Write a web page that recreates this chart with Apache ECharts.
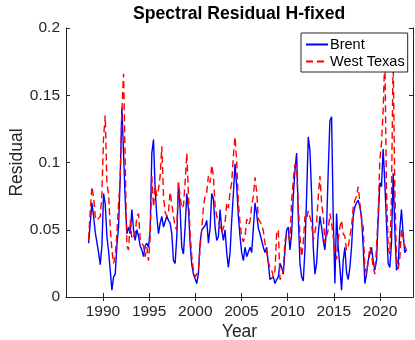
<!DOCTYPE html>
<html>
<head>
<meta charset="utf-8">
<title>Spectral Residual H-fixed</title>
<script src="https://cdn.jsdelivr.net/npm/echarts@6/dist/echarts.min.js"></script>
<style>
  html, body { margin: 0; padding: 0; background: #fff; }
  #chart { width: 415px; height: 340px; }
</style>
</head>
<body>
<div id="chart"></div>
<script>
// sampling of the residual series (years)
var startYear = 1988.447;
var stepYears = 0.18018;

var yearTicks = [1990, 1995, 2000, 2005, 2010, 2015, 2020];

// Brent
var brent = [
    0.040, 0.055, 0.070, 0.060, 0.048, 0.047, 0.033, 0.024, 0.038, 0.077,
    0.069, 0.045, 0.034, 0.020, 0.005, 0.015, 0.017, 0.038, 0.052, 0.089,
    0.141, 0.107, 0.072, 0.047, 0.052, 0.047, 0.065, 0.050, 0.042, 0.050,
    0.045, 0.038, 0.035, 0.030, 0.038, 0.040, 0.037, 0.050, 0.107, 0.117,
    0.080, 0.060, 0.047, 0.055, 0.060, 0.052, 0.052, 0.060, 0.057, 0.055,
    0.047, 0.027, 0.025, 0.045, 0.085, 0.065, 0.037, 0.032, 0.052, 0.077,
    0.065, 0.040, 0.024, 0.017, 0.016, 0.010, 0.018, 0.040, 0.050, 0.051,
    0.053, 0.057, 0.040, 0.051, 0.077, 0.073, 0.052, 0.042, 0.045, 0.065,
    0.050, 0.042, 0.050, 0.033, 0.022, 0.033, 0.057, 0.077, 0.099, 0.082,
    0.060, 0.045, 0.033, 0.027, 0.037, 0.030, 0.030, 0.037, 0.033, 0.051,
    0.070, 0.062, 0.051, 0.047, 0.042, 0.037, 0.033, 0.037, 0.025, 0.013,
    0.013, 0.015, 0.010, 0.013, 0.015, 0.025, 0.022, 0.017, 0.035, 0.050,
    0.052, 0.035, 0.047, 0.075, 0.094, 0.107, 0.060, 0.025, 0.015, 0.012,
    0.035, 0.075, 0.119, 0.109, 0.077, 0.037, 0.017, 0.025, 0.047, 0.060,
    0.052, 0.042, 0.035, 0.052, 0.094, 0.131, 0.134, 0.060, 0.010, 0.062,
    0.037, 0.022, 0.005, 0.027, 0.037, 0.018, 0.013, 0.022, 0.037, 0.060,
    0.067, 0.070, 0.072, 0.067, 0.060, 0.037, 0.010, 0.017, 0.027, 0.032,
    0.037, 0.027, 0.020, 0.027, 0.057, 0.085, 0.082, 0.110, 0.085, 0.055,
    0.025, 0.022, 0.040, 0.092, 0.050, 0.020, 0.022, 0.050, 0.065, 0.047,
    0.033, 0.035
];

// West Texas
var westTexas = [
    0.043, 0.065, 0.082, 0.074, 0.060, 0.057, 0.058, 0.060, 0.077, 0.119,
    0.135, 0.084, 0.077, 0.052, 0.035, 0.025, 0.030, 0.047, 0.069, 0.089,
    0.138, 0.166, 0.100, 0.038, 0.035, 0.057, 0.043, 0.045, 0.047, 0.060,
    0.062, 0.043, 0.040, 0.038, 0.030, 0.037, 0.027, 0.045, 0.090, 0.067,
    0.082, 0.075, 0.080, 0.090, 0.112, 0.075, 0.063, 0.060, 0.063, 0.078,
    0.077, 0.060, 0.052, 0.050, 0.085, 0.075, 0.066, 0.068, 0.085, 0.107,
    0.077, 0.047, 0.030, 0.020, 0.015, 0.017, 0.020, 0.037, 0.050, 0.067,
    0.075, 0.078, 0.090, 0.085, 0.098, 0.090, 0.068, 0.060, 0.056, 0.052,
    0.048, 0.049, 0.055, 0.070, 0.066, 0.078, 0.085, 0.105, 0.119, 0.100,
    0.070, 0.055, 0.045, 0.041, 0.045, 0.058, 0.054, 0.056, 0.068, 0.075,
    0.089, 0.078, 0.058, 0.056, 0.054, 0.049, 0.040, 0.034, 0.026, 0.022,
    0.020, 0.015, 0.020, 0.047, 0.050, 0.013, 0.015, 0.020, 0.042, 0.047,
    0.045, 0.042, 0.072, 0.087, 0.099, 0.097, 0.068, 0.045, 0.030, 0.040,
    0.060, 0.058, 0.064, 0.063, 0.055, 0.042, 0.041, 0.055, 0.075, 0.090,
    0.070, 0.060, 0.040, 0.045, 0.050, 0.062, 0.055, 0.045, 0.033, 0.028,
    0.043, 0.052, 0.057, 0.047, 0.045, 0.035, 0.037, 0.045, 0.052, 0.067,
    0.072, 0.075, 0.082, 0.070, 0.057, 0.052, 0.022, 0.017, 0.027, 0.037,
    0.032, 0.022, 0.017, 0.037, 0.062, 0.102, 0.114, 0.139, 0.180, 0.080,
    0.037, 0.032, 0.075, 0.180, 0.080, 0.030, 0.021, 0.028, 0.050, 0.050,
    0.038, 0.035
];

function toPairs(values) {
    var out = [];
    for (var i = 0; i < values.length; i++) {
        out.push([startYear + i * stepYears, values[i]]);
    }
    return out;
}

var axisColor = '#262626';
var font = 'Liberation Sans, Arial, Helvetica, sans-serif';

var chart = echarts.init(document.getElementById('chart'), null, { renderer: 'canvas' });
var option = {
    animation: false,
    backgroundColor: '#fff',
    title: {
        text: 'Spectral Residual H-fixed',
        left: 133,
        top: 5,
        padding: 0,
        textStyle: { fontFamily: font, fontSize: 17.6, fontWeight: 'bold', color: '#000' }
    },
    legend: {
        orient: 'vertical',
        left: 301,
        top: 33,
        padding: [4, 3, 3, 4],
        itemWidth: 22,
        itemHeight: 14,
        itemGap: 2,
        backgroundColor: '#fff',
        borderColor: axisColor,
        borderWidth: 1,
        borderRadius: 0,
        itemStyle: { opacity: 0 },
        textStyle: { fontFamily: font, fontSize: 14.5, color: '#000', padding: [0, 0, 0, -3] },
        data: ['Brent', 'West Texas']
    },
    grid: { left: 66, right: 2, top: 28, bottom: 43, outerBoundsMode: 'none' },
    xAxis: [{
        type: 'value',
        min: 1986,
        max: 2023.57,
        name: 'Year',
        nameLocation: 'middle',
        nameGap: 26,
        nameMoveOverlap: false,
        nameTextStyle: { fontFamily: font, fontSize: 17.5, color: axisColor },
        splitLine: { show: false },
        axisLine: { lineStyle: { color: axisColor, width: 1 } },
        axisTick: { inside: true, length: 4, customValues: yearTicks, lineStyle: { color: axisColor } },
        axisLabel: {
            customValues: yearTicks, margin: 7, fontFamily: font, fontSize: 15.5, color: axisColor,
            formatter: function (v) { return String(v); }
        }
    }, {
        type: 'value',
        position: 'top',
        min: 1986,
        max: 2023.57,
        splitLine: { show: false },
        axisLine: { show: true, lineStyle: { color: axisColor, width: 1 } },
        axisTick: { inside: true, length: 4, customValues: yearTicks, lineStyle: { color: axisColor } },
        axisLabel: { show: false }
    }],
    yAxis: [{
        type: 'value',
        min: 0,
        max: 0.2,
        interval: 0.05,
        name: 'Residual',
        nameLocation: 'middle',
        nameGap: 40,
        nameMoveOverlap: false,
        nameTextStyle: { fontFamily: font, fontSize: 17.5, color: axisColor },
        splitLine: { show: false },
        axisLine: { show: true, lineStyle: { color: axisColor, width: 1 } },
        axisTick: { show: true, inside: true, length: 4, lineStyle: { color: axisColor } },
        axisLabel: { margin: 6, fontFamily: font, fontSize: 15.5, color: axisColor }
    }, {
        type: 'value',
        position: 'right',
        min: 0,
        max: 0.2,
        interval: 0.05,
        splitLine: { show: false },
        axisLine: { show: true, lineStyle: { color: axisColor, width: 1 } },
        axisTick: { show: true, inside: true, length: 4, lineStyle: { color: axisColor } },
        axisLabel: { show: false }
    }],
    series: [{
        name: 'Brent',
        type: 'line',
        symbol: 'none',
        showSymbol: false,
        xAxisIndex: 0,
        yAxisIndex: 0,
        color: '#0000ff',
        lineStyle: { color: '#0000ff', width: 1.4 },
        data: toPairs(brent)
    }, {
        name: 'West Texas',
        type: 'line',
        symbol: 'none',
        showSymbol: false,
        xAxisIndex: 0,
        yAxisIndex: 0,
        color: '#ff0000',
        lineStyle: { color: '#ff0000', width: 1.4, type: [7, 4] },
        data: toPairs(westTexas)
    }]
};
chart.setOption(option);
</script>
</body>
</html>
